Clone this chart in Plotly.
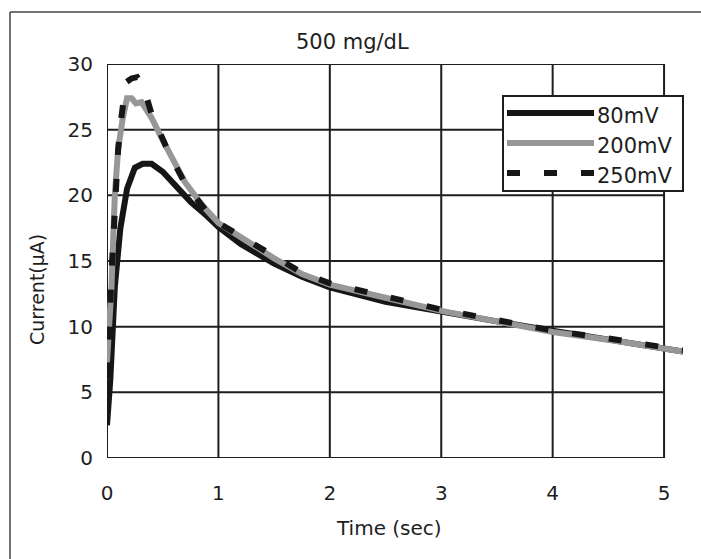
import plotly.graph_objects as go

# ---- data ----
t_80 = [0, 0.03, 0.07, 0.12, 0.18, 0.25, 0.32, 0.4, 0.5, 0.6, 0.75, 0.9, 1.0, 1.2, 1.5, 1.75, 2.0, 2.5, 3.0, 3.5, 4.0, 4.5, 5.0, 5.17]
i_80 = [2.5, 6.0, 13.0, 17.5, 20.5, 22.1, 22.4, 22.4, 21.8, 20.9, 19.5, 18.4, 17.6, 16.3, 14.8, 13.8, 13.0, 11.9, 11.1, 10.4, 9.7, 9.0, 8.3, 8.1]

t_200 = [0, 0.02, 0.04, 0.07, 0.1, 0.14, 0.18, 0.22, 0.26, 0.31, 0.4, 0.5, 0.55, 0.6, 0.7, 0.85, 1.0, 1.2, 1.5, 1.75, 2.0, 2.5, 3.0, 3.5, 4.0, 4.5, 5.0, 5.17]
i_200 = [7.3, 10.0, 13.0, 20.0, 23.5, 25.8, 27.4, 27.4, 27.0, 27.1, 25.9, 24.2, 23.3, 22.6, 21.0, 19.3, 17.9, 16.8, 15.2, 14.0, 13.2, 12.2, 11.2, 10.4, 9.6, 9.0, 8.4, 8.1]

t_250 = [0, 0.02, 0.04, 0.07, 0.1, 0.13, 0.17, 0.22, 0.27, 0.33, 0.4, 0.5, 0.55, 0.7, 0.9, 1.0, 1.2, 1.5, 1.75, 2.0, 2.5, 3.0, 3.5, 4.0, 4.5, 5.0, 5.17]
i_250 = [6.2, 9.0, 14.0, 20.0, 23.5, 26.0, 28.6, 28.9, 29.0, 28.2, 26.2, 24.3, 23.3, 20.9, 18.7, 17.9, 16.9, 15.3, 14.1, 13.3, 12.3, 11.3, 10.5, 9.7, 9.1, 8.5, 8.2]

x_ticks = [0, 1, 2, 3, 4, 5]
y_ticks = [0, 5, 10, 15, 20, 25, 30]
series_names = ["80mV", "200mV", "250mV"]

W, H = 701, 559
L, R, T, B = 107, 683, 64, 458
X_MAX = 5.17
FONT = "DejaVu Sans"
INK = "#1e1e1e"

def px(xp):
    return (xp - L) / (R - L)

def py(yp):
    return (B - yp) / (B - T)

fig = go.Figure()
fig.add_trace(go.Scatter(x=t_80, y=i_80, mode="lines", name=series_names[0],
                         line=dict(color="#161616", width=6)))
fig.add_trace(go.Scatter(x=t_200, y=i_200, mode="lines", name=series_names[1],
                         line=dict(color="#979797", width=6)))
fig.add_trace(go.Scatter(x=t_250, y=i_250, mode="lines", name=series_names[2],
                         line=dict(color="#161616", width=6, dash="13px,24px")))

shapes = []
# grid + border (x 0..5, y 0..30)
for xv in x_ticks:
    shapes.append(dict(type="line", xref="x", yref="y", x0=xv, x1=xv, y0=0, y1=30,
                       line=dict(color=INK, width=2), layer="below"))
for yv in y_ticks:
    shapes.append(dict(type="line", xref="x", yref="y", x0=0, x1=5, y0=yv, y1=yv,
                       line=dict(color=INK, width=2), layer="below"))
# outer frame (left and top)
shapes.append(dict(type="line", xref="paper", yref="paper", x0=px(10), x1=px(10), y0=py(12), y1=py(H + 50),
                   line=dict(color="#444", width=1.5)))
shapes.append(dict(type="line", xref="paper", yref="paper", x0=px(10), x1=px(W + 50), y0=py(12), y1=py(12),
                   line=dict(color="#444", width=1.5)))
# legend box
shapes.append(dict(type="rect", xref="paper", yref="paper", x0=px(503), x1=px(683), y0=py(96), y1=py(191),
                   fillcolor="white", line=dict(color=INK, width=2), layer="above"))
legend_y = [113, 143, 173]
legend_styles = [dict(color="#161616", width=6), dict(color="#979797", width=6),
                 dict(color="#161616", width=6, dash="13px,24px")]
annotations = []
for name, yy, st in zip(series_names, legend_y, legend_styles):
    shapes.append(dict(type="line", xref="paper", yref="paper", x0=px(507), x1=px(594), y0=py(yy), y1=py(yy),
                       line=st, layer="above"))
    annotations.append(dict(text=name, xref="paper", yref="paper", x=px(595), y=py(yy + 3),
                            xanchor="left", yanchor="middle", showarrow=False,
                            font=dict(family=FONT, size=21, color=INK)))

annotations.append(dict(text="500 mg/dL", xref="paper", yref="paper", x=px(352), y=py(42),
                        xanchor="center", yanchor="middle", showarrow=False,
                        font=dict(family=FONT, size=21, color=INK)))
annotations.append(dict(text="Time (sec)", xref="paper", yref="paper", x=px(389), y=py(528),
                        xanchor="center", yanchor="middle", showarrow=False,
                        font=dict(family=FONT, size=20, color=INK)))
annotations.append(dict(text="Current(μA)", xref="paper", yref="paper", x=px(37), y=py(290),
                        xanchor="center", yanchor="middle", showarrow=False, textangle=-90,
                        font=dict(family=FONT, size=19, color=INK)))

fig.update_layout(
    width=W, height=H,
    margin=dict(l=L, r=W - R, t=T, b=H - B),
    paper_bgcolor="white", plot_bgcolor="white",
    showlegend=False,
    shapes=shapes, annotations=annotations,
    xaxis=dict(range=[0, X_MAX], tickvals=x_ticks, showgrid=False, zeroline=False, showline=False,
               ticks="outside", ticklen=17, tickcolor="rgba(0,0,0,0)",
               tickfont=dict(family=FONT, size=20, color=INK)),
    yaxis=dict(range=[0, 30], tickvals=y_ticks, showgrid=False, zeroline=False, showline=False,
               ticks="outside", ticklen=9, tickcolor="rgba(0,0,0,0)",
               tickfont=dict(family=FONT, size=20, color=INK)),
)

fig.write_html("out.html", config={"displayModeBar": False},
               post_script="document.body.style.margin='0px';")
